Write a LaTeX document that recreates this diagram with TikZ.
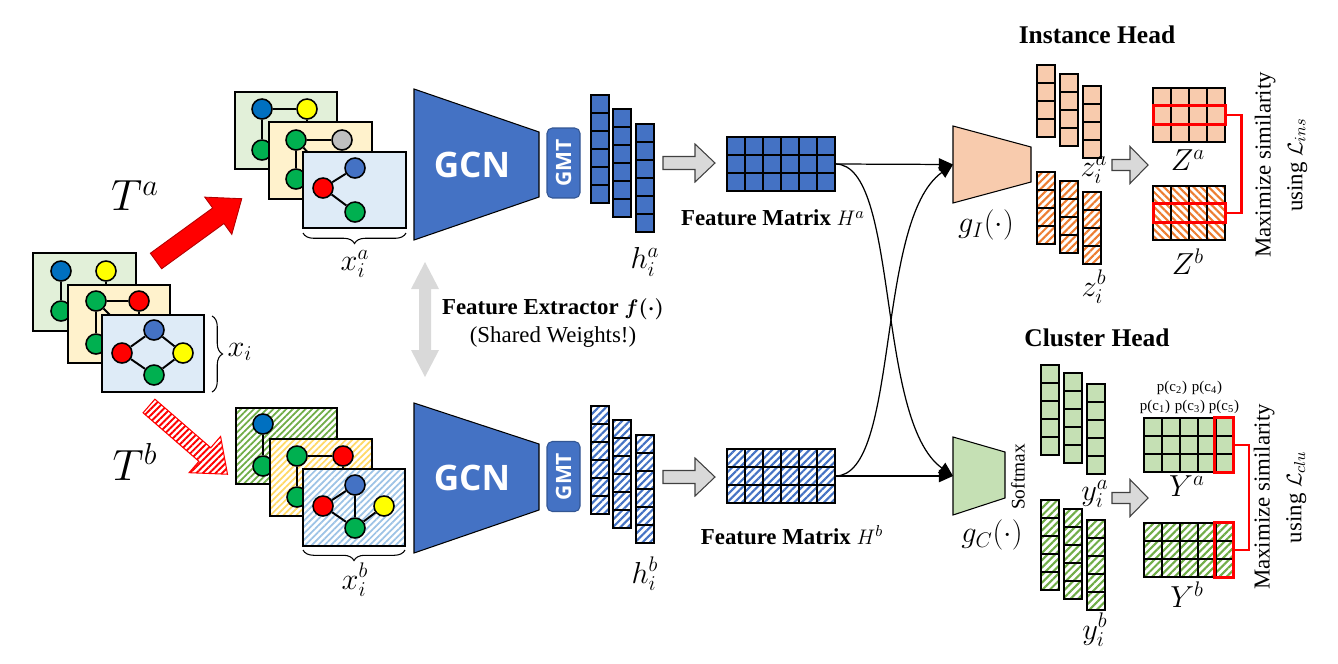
\documentclass[tikz,border=0pt]{standalone}
\usepackage{fontspec}
\setmainfont{Liberation Serif}
\newfontfamily\gcnfont{Open Sans}
\usepackage{amsmath,bm}
\usetikzlibrary{patterns.meta,arrows.meta,decorations.pathreplacing}
\definecolor{gcnblue}{HTML}{4472C4}
\definecolor{nblue}{HTML}{0070C0}
\definecolor{nblueb}{HTML}{4472C4}
\definecolor{ngreen}{HTML}{00B050}
\definecolor{nyellow}{HTML}{FFFF00}
\definecolor{nred}{HTML}{FF0000}
\definecolor{ngray}{HTML}{BFBFBF}
\definecolor{pgreen}{HTML}{E2F0D9}
\definecolor{pyellow}{HTML}{FFF2CC}
\definecolor{pblue}{HTML}{DEEBF7}
\definecolor{hgreen}{HTML}{70AD47}
\definecolor{hyellow}{HTML}{FFD966}
\definecolor{hblue}{HTML}{9DC3E6}
\definecolor{peach}{HTML}{F8CBAD}
\definecolor{orng}{HTML}{ED7D31}
\definecolor{lgreen}{HTML}{C5E0B4}
\definecolor{lgray}{HTML}{D9D9D9}
\newcommand\cellgrid[6]{%
  \foreach \ci in {1,...,#4}{%
    \foreach \cj in {1,...,#5}{%
      \path[#1] ({#2+(\ci-1)*#6},{#3+(\cj-1)*#6}) rectangle ++(#6,#6);
    }}}
\newcommand\blockarrow[8]{%
  \path[#1,shift={(#2,#3)},rotate=#4] (0,-#6) -- ({#5-#8},-#6) -- ({#5-#8},-#7) -- (#5,0) -- ({#5-#8},#7) -- ({#5-#8},#6) -- (0,#6) -- cycle;}
\begin{document}
\begin{tikzpicture}[x=0.02cm,y=-0.02cm,
  panel/.style={draw=black,line width=1.1pt,fill=#1},
  hpanel/.style={draw=black,line width=1.1pt,preaction={fill=white},pattern={Lines[angle=45,distance=2.6pt,line width=1pt]},pattern color=#1},
  gn/.style={circle,draw=black,line width=0.9pt,fill=#1,minimum size=0.4cm,inner sep=0pt},
  ge/.style={line width=1.1pt},
  solidcell/.style={draw=black,line width=0.6pt,fill=#1},
  hcell/.style={draw=black,line width=0.6pt,preaction={fill=white},pattern={Lines[angle=45,distance=3pt,line width=1.2pt]},pattern color=#1},
  hcellneg/.style={draw=black,line width=0.6pt,preaction={fill=white},pattern={Lines[angle=-45,distance=3pt,line width=1.2pt]},pattern color=#1},
  garrow/.style={draw=black!75,line width=0.6pt,fill=lgray},
  gcntext/.style={text=white,font=\gcnfont\bfseries\fontsize{20}{20}\selectfont},
  gmt/.style={draw=gcnblue!75!black,line width=0.6pt,fill=gcnblue,rounded corners=3pt,minimum width=1.4cm,minimum height=0.66cm,inner sep=0pt,rotate=90,text=white,font=\gcnfont\bfseries\fontsize{12}{12}\selectfont},
  lbl/.style={font=\fontsize{17}{19}\selectfont,inner sep=1pt},
  biglbl/.style={font=\fontsize{26}{30}\selectfont},
  boldlbl/.style={font=\bfseries\fontsize{13}{15}\selectfont},
  title/.style={font=\bfseries\fontsize{14.5}{17}\selectfont},
  brace/.style={decorate,decoration={brace,amplitude=6pt},line width=0.6pt},
  redbox/.style={draw=nred,line width=1.7pt,inner sep=0pt},
  redline/.style={draw=nred,line width=1.5pt},
  conn/.style={line width=0.7pt,-{Triangle[length=8pt,width=7pt]}},
  sim/.style={rotate=90,align=center,font=\fontsize{13}{18}\selectfont},
  pc/.style={font=\fontsize{8.5}{10}\selectfont,inner sep=0pt}
]
\useasboundingbox (0,0) rectangle (1338,663);

% ---------------- input graph x_i
\path[panel=pgreen] (33,253) rectangle (136,331);
\node[gn=nblue] (Lbb) at (61,271) {};
\node[gn=nyellow] (Lby) at (106,271) {};
\node[gn=ngreen] (Lbg) at (61,311) {};
\draw[ge] (Lbb) -- (Lbg);
\draw[ge] (Lby) -- (106,300);
\path[panel=pyellow] (68,285) rectangle (170,363);
\node[gn=ngreen] (Lmg) at (96,301) {};
\node[gn=nred] (Lmr) at (139,301) {};
\node[gn=ngreen] (Lmh) at (96,344) {};
\draw[ge] (Lmg) -- (Lmr);
\draw[ge] (Lmg) -- (Lmh);
\draw[ge] (Lmg) -- (120,325);
\draw[ge] (Lmr) -- (139,330);
\path[panel=pblue] (102,315) rectangle (204,392);
\node[gn=nblueb] (Lfb) at (154,330) {};
\node[gn=nred] (Lfr) at (122,353) {};
\node[gn=nyellow] (Lfy) at (183,353) {};
\node[gn=ngreen] (Lfg) at (154,375) {};
\draw[ge] (Lfb) -- (Lfr);
\draw[ge] (Lfb) -- (Lfy);
\draw[ge] (Lfr) -- (Lfg);
\draw[ge] (Lfy) -- (Lfg);
\draw[brace] (212,316) -- (212,392);
\node[lbl] (xi) at (240,352) {$x_i$};

% ---------------- augmentation arrows
\blockarrow{fill=nred,draw=nred!70!black,line width=0.5pt}{156}{261}{36}{106}{9.6}{23}{29}
\blockarrow{draw=nred,line width=0.6pt,preaction={fill=white},pattern={Lines[angle=45,distance=2.6pt,line width=1.1pt]},pattern color=nred}{149}{406}{-41}{104}{9}{24}{30}
\node[biglbl] (Ta) at (135,196) {$T^a$};
\node[biglbl] (Tb) at (135,462) {$T^b$};

% ---------------- view a
\path[panel=pgreen] (235,92) rectangle (337,169);
\node[gn=nblue] (Abb) at (262,109) {};
\node[gn=nyellow] (Aby) at (307,109) {};
\node[gn=ngreen] (Abg) at (262,150) {};
\draw[ge] (Abb) -- (Aby);
\draw[ge] (Abb) -- (Abg);
\draw[ge] (Aby) -- (307,135);
\path[panel=pyellow] (269,122) rectangle (372,199);
\node[gn=ngreen] (Amg) at (296,140) {};
\node[gn=ngray] (Amy) at (342,140) {};
\node[gn=ngreen] (Amh) at (296,179) {};
\draw[ge] (Amg) -- (Amy);
\draw[ge] (Amg) -- (Amh);
\draw[ge] (Amg) -- (320,165);
\draw[ge] (Amy) -- (342,165);
\path[panel=pblue] (303,152) rectangle (406,228);
\node[gn=nblueb] (Afb) at (355,168) {};
\node[gn=nred] (Afr) at (323,188) {};
\node[gn=ngreen] (Afg) at (355,212) {};
\draw[ge] (Afr) -- (Afb);
\draw[ge] (Afr) -- (Afg);
\draw[brace] (406,233) -- (303,233);
\node[lbl] (xia) at (355,264) {$x_i^a$};

% ---------------- view b
\path[hpanel=hgreen] (236,408) rectangle (337,484);
\node[gn=nblue] (Bbb) at (263,424) {};
\node[gn=ngreen] (Bbg) at (263,466) {};
\draw[ge] (Bbb) -- (Bbg);
\path[hpanel=hyellow] (270,439) rectangle (372,516);
\node[gn=ngreen] (Bmg) at (297,456) {};
\node[gn=nred] (Bmr) at (343,456) {};
\node[gn=ngreen] (Bmh) at (297,497) {};
\draw[ge] (Bmg) -- (Bmr);
\draw[ge] (Bmg) -- (Bmh);
\draw[ge] (Bmr) -- (343,480);
\path[hpanel=hblue] (303,469) rectangle (405,546);
\node[gn=nblueb] (Bfb) at (355,485) {};
\node[gn=nred] (Bfr) at (323,506) {};
\node[gn=nyellow] (Bfy) at (384,506) {};
\node[gn=ngreen] (Bfg) at (355,528) {};
\draw[ge] (Bfb) -- (Bfr);
\draw[ge] (Bfb) -- (Bfg);
\draw[ge] (Bfr) -- (Bfg);
\draw[ge] (Bfy) -- (Bfg);
\draw[brace] (405,550) -- (303,550);
\node[lbl] (xib) at (355,580) {$x_i^b$};

% ---------------- encoders
\path[draw=black,line width=0.6pt,fill=gcnblue] (414,89) -- (539,132) -- (539,197) -- (414,240) -- cycle;
\node[gcntext] (gcnA) at (472,165) {GCN};
\node[gmt] (gmtA) at (563.5,163) {GMT};
\path[draw=black,line width=0.6pt,fill=gcnblue] (414,403) -- (539,444) -- (539,510) -- (414,553) -- cycle;
\node[gcntext] (gcnB) at (472,478) {GCN};
\node[gmt] (gmtB) at (563.5,476.5) {GMT};

\path[fill=lgray] (425,262) -- (439,289) -- (431,289) -- (431,350) -- (439,350) -- (425,377) -- (411,350) -- (419,350) -- (419,289) -- (411,289) -- cycle;
\node[align=center,font=\fontsize{13}{16}\selectfont] (fx) at (553,323) {\textbf{Feature Extractor $\bm{f(\cdot)}$}\\(Shared Weights!)};

% h vectors
\cellgrid{solidcell=gcnblue}{591}{95}{1}{6}{18}
\cellgrid{solidcell=gcnblue}{613}{109}{1}{6}{18}
\cellgrid{solidcell=gcnblue}{636}{124}{1}{6}{18}
\node[lbl] (hia) at (645,262) {$h_i^a$};
\cellgrid{hcell=gcnblue}{591}{406}{1}{6}{18}
\cellgrid{hcell=gcnblue}{613}{420}{1}{6}{18}
\cellgrid{hcell=gcnblue}{636}{435}{1}{6}{18}
\node[lbl] (hib) at (645,574) {$h_i^b$};

\blockarrow{garrow}{663}{163}{0}{52}{6.5}{19}{20}
\blockarrow{garrow}{663}{477}{0}{52}{6.5}{19}{20}

% feature matrices
\cellgrid{solidcell=gcnblue}{727}{137}{6}{3}{18}
\cellgrid{hcell=gcnblue}{727}{449}{6}{3}{18}
\node[inner sep=0pt,minimum width=2.16cm,minimum height=1.08cm] (Ha) at (781,164) {};
\node[inner sep=0pt,minimum width=2.16cm,minimum height=1.08cm] (Hb) at (781,476) {};
\node[boldlbl] (Hal) at (773,218) {Feature Matrix $H^a$};
\node[boldlbl] (Hbl) at (792,535) {Feature Matrix $H^b$};

% heads
\path[draw=black,line width=0.6pt,fill=peach] (953,126) -- (1031,147) -- (1031,182) -- (953,203) -- cycle;
\coordinate (gI) at (953,164.5);
\node[lbl] (gIl) at (986,225) {$g_I(\cdot)$};
\path[draw=black,line width=0.6pt,fill=lgreen] (953,437) -- (1005,452) -- (1005,498) -- (953,515) -- cycle;
\coordinate (gC) at (953,476);
\node[lbl] (gCl) at (992,535) {$g_C(\cdot)$};
\node[rotate=90,font=\fontsize{11}{13}\selectfont] (sm) at (1018,477) {Softmax};

\draw[conn] (Ha.east) -- (gI);
\draw[conn] (Hb.east) -- (gC);
\draw[conn] (Ha.east) .. controls (900,164) and (875,420) .. (gC);
\draw[conn] (Hb.east) .. controls (900,476) and (875,220) .. (gI);

\node[title] (ih) at (1097,35) {Instance Head};
\node[title] (ch) at (1097,338) {Cluster Head};

% z vectors
\cellgrid{solidcell=peach}{1037}{65}{1}{4}{18}
\cellgrid{solidcell=peach}{1060}{74}{1}{4}{18}
\cellgrid{solidcell=peach}{1083}{86}{1}{4}{18}
\cellgrid{hcell=orng}{1037}{172}{1}{4}{18}
\cellgrid{hcell=orng}{1060}{181}{1}{4}{18}
\cellgrid{hcell=orng}{1083}{192}{1}{4}{18}
\node[lbl] (zia) at (1094,170) {$z_i^a$};
\node[lbl] (zib) at (1094,287) {$z_i^b$};
\blockarrow{garrow}{1112}{165}{0}{36}{5.5}{18.5}{18}

\cellgrid{solidcell=peach}{1153}{88}{4}{3}{18}
\cellgrid{hcellneg=orng}{1153}{186}{4}{3}{18}
\node[lbl] (Zal) at (1188,160) {$Z^a$};
\node[lbl] (Zbl) at (1188,262) {$Z^b$};
\node[redbox,minimum width=1.44cm,minimum height=0.37cm] (zared) at (1189,115) {};
\node[redbox,minimum width=1.44cm,minimum height=0.37cm] (zbred) at (1189,213) {};
\draw[redline] (zared.east) -- ++(15,0) |- (zbred.east);
\node[sim] (simI) at (1281,165) {Maximize similarity\\using $\mathcal{L}_{ins}$};

% y vectors
\cellgrid{solidcell=lgreen}{1041}{365}{1}{5}{18}
\cellgrid{solidcell=lgreen}{1064}{373}{1}{5}{18}
\cellgrid{solidcell=lgreen}{1087}{384}{1}{5}{18}
\cellgrid{hcell=hgreen}{1041}{500}{1}{5}{18}
\cellgrid{hcell=hgreen}{1064}{509}{1}{5}{18}
\cellgrid{hcell=hgreen}{1087}{520}{1}{5}{18}
\node[lbl] (yia) at (1095,494) {$y_i^a$};
\node[lbl] (yib) at (1095,630) {$y_i^b$};
\blockarrow{garrow}{1112}{498}{0}{36}{5.5}{18.5}{18}

\cellgrid{solidcell=lgreen}{1144}{418}{5}{3}{18}
\cellgrid{hcell=hgreen}{1144}{523}{5}{3}{18}
\node[lbl] (Yal) at (1187,486) {$Y^a$};
\node[lbl] (Ybl) at (1187,595) {$Y^b$};
\node[redbox,minimum width=0.38cm,minimum height=1.1cm] (yared) at (1224,445) {};
\node[redbox,minimum width=0.38cm,minimum height=1.1cm] (ybred) at (1224,550) {};
\draw[redline] (yared.east) -- ++(14,0) |- (ybred.east);
\node[pc] (pc2) at (1172,388) {p(c\textsubscript{2})};
\node[pc] (pc4) at (1207,388) {p(c\textsubscript{4})};
\node[pc] (pc1) at (1155,407) {p(c\textsubscript{1})};
\node[pc] (pc3) at (1190,407) {p(c\textsubscript{3})};
\node[pc] (pc5) at (1224,407) {p(c\textsubscript{5})};
\node[sim] (simC) at (1280,497) {Maximize similarity\\using $\mathcal{L}_{clu}$};
\end{tikzpicture}
\end{document}
